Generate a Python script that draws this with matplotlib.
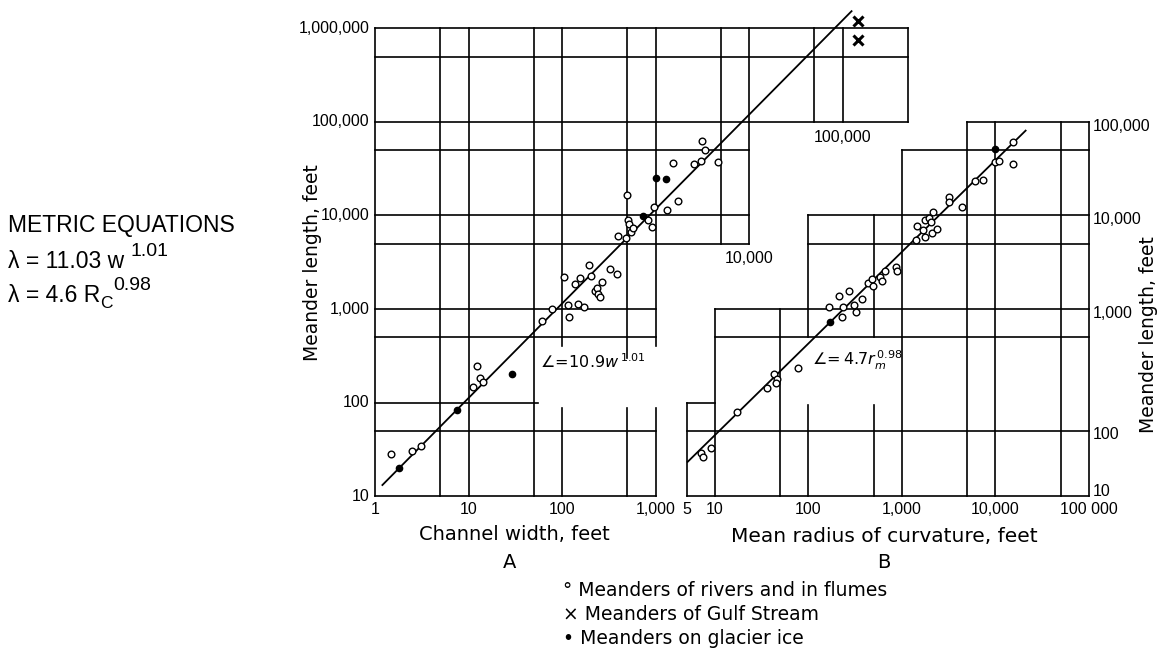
import numpy as np
import matplotlib.pyplot as plt
import matplotlib as mpl

mpl.rcParams['font.family'] = 'DejaVu Sans'

# ---- data ----
# A: channel width (ft) vs meander length (ft)
a_riv_w = [1.5, 2.5, 3.1, 11.2, 12.3, 13.3, 14.3, 61, 78, 105, 116, 119, 138, 148, 156, 172,
           194, 204, 225, 237, 243, 255, 268, 326, 387, 397, 483, 495, 508, 521, 547, 574,
           831, 918, 964, 1330, 1540, 1740, 2580, 3070, 3140, 3380, 4660]
a_riv_L = [28, 30, 34, 147, 245, 183, 166, 745, 1000, 2200, 1100, 820, 1850, 1130, 2150, 1050,
           2960, 2250, 1560, 1680, 1450, 1340, 1940, 2680, 2370, 6040, 5750, 16500, 8950, 8200, 6670, 7350,
           8950, 7540, 12300, 11500, 36400, 14300, 35500, 38300, 62700, 50200, 37300]
a_ice_w = [1.8, 7.5, 29, 735, 1010, 1290]
a_ice_L = [20, 83, 202, 9880, 25200, 24500]
gulf_w = [1.47e5, 1.47e5]
gulf_L = [1.2e6, 7.5e5]

# B: mean radius of curvature (ft) vs meander length (ft)
b_riv_r = [7.1, 7.45, 9.1, 17.2, 35.9, 42.7, 46, 44.9, 77, 166, 212, 228, 234, 271, 307, 322,
           373, 433, 477, 490, 582, 611, 658, 863, 885, 1413, 1446, 1678, 1762, 1762, 1945, 2043,
           2094, 2147, 2368, 3184, 3184, 4387, 6040, 7350, 9880, 10900, 15400, 15400]
b_riv_L = [28.8, 26.1, 32.6, 79, 143, 202, 178, 162, 234, 1050, 1380, 820, 1050, 1560, 1100, 929,
           1280, 1900, 2090, 1760, 2200, 1990, 2550, 2810, 2550, 5470, 7730, 7000, 8950, 5890, 9400, 8520,
           6500, 10900, 7170, 15800, 13900, 12300, 23400, 24000, 37300, 38300, 61100, 35500]
b_ice_r = [170, 9880]
b_ice_L = [726, 51400]

# fitted lines  L = a * x**b
fit_a = (10.9, 1.01, 1.2, 1.25e5)
fit_b = (4.7, 0.98, 5.1, 2.1e4)

a_xticks = [1, 10, 100, 1000]
a_xlabels = ['1', '10', '100', '1,000']
a_yticks = [10, 100, 1000, 1e4, 1e5, 1e6]
a_ylabels = ['10', '100', '1,000', '10,000', '100,000', '1,000,000']
b_xticks = [5, 10, 100, 1000, 1e4, 1e5]
b_xlabels = ['5', '10', '100', '1,000', '10,000', '100 000']
b_yticks = [10, 50, 1000, 1e4, 1e5]
b_ylabels = ['10', '100', '1,000', '10,000', '100,000']

# stepped grid of each panel: (value, from, to)
a_h = [(10, 1, 1000), (50, 1, 1000), (100, 1, 55), (500, 1, 1000), (1000, 1, 1000),
       (5000, 1, 1e4), (1e4, 1, 1e4), (5e4, 1, 1e4), (1e5, 1, 5e5), (5e5, 1, 5e5), (1e6, 1, 5e5)]
a_v = [(1, 10, 1e6), (5, 10, 1e6), (10, 10, 1e6), (50, 10, 1e6), (100, 10, 88), (100, 400, 1e6),
       (500, 10, 88), (500, 300, 1e6), (1000, 10, 88), (1000, 400, 1e6), (5000, 5000, 1e6),
       (1e4, 5000, 1e6), (5e4, 1e5, 1e6), (1e5, 1e5, 1e6), (5e5, 1e5, 1e6)]
b_h = [(10, 5, 1e5), (50, 5, 1e5), (100, 5, 10), (500, 10, 1e5), (1000, 10, 1e5),
       (5000, 100, 1e5), (1e4, 100, 1e5), (5e4, 1000, 1e5), (1e5, 5000, 1e5)]
b_v = [(5, 10, 100), (10, 10, 1000), (50, 10, 1000), (100, 10, 95), (100, 500, 1e4),
       (500, 10, 95), (500, 500, 1e4), (1000, 10, 5e4), (5000, 10, 1e5), (1e4, 10, 1e5),
       (5e4, 10, 1e5), (1e5, 10, 1e5)]

W, H = 1168, 652
PPD = 93.5  # pixels per decade, both axes
fig = plt.figure(figsize=(W / 100, H / 100), dpi=100)


def px(x, y):
    return x / W, 1 - y / H


def log_axes(x_ref, px_ref, xlo, xhi, ylo=10 ** 0.8, yhi=10 ** 6.4):
    left = px_ref + (np.log10(xlo) - np.log10(x_ref)) * PPD
    width = (np.log10(xhi) - np.log10(xlo)) * PPD
    bottom = 496 + (1 - np.log10(ylo)) * PPD
    height = (np.log10(yhi) - np.log10(ylo)) * PPD
    ax = fig.add_axes([left / W, 1 - bottom / H, width / W, height / H])
    ax.set_xscale('log')
    ax.set_yscale('log')
    ax.set_xlim(xlo, xhi)
    ax.set_ylim(ylo, yhi)
    ax.axis('off')
    return ax


def grid(ax, hl, vl):
    for v, a, b in hl:
        ax.plot([a, b], [v, v], color='black', lw=1.2, solid_capstyle='projecting')
    for v, a, b in vl:
        ax.plot([v, v], [a, b], color='black', lw=1.2, solid_capstyle='projecting')


def points(ax, xr, yr, xi, yi):
    ax.plot(xr, yr, 'o', ms=4.8, mfc='white', mec='black', mew=1.0, zorder=4)
    ax.plot(xi, yi, 'o', ms=4.5, color='black', zorder=4)


def fitline(ax, fit):
    a, b, x0, x1 = fit
    ax.plot([x0, x1], [a * x0 ** b, a * x1 ** b], color='black', lw=1.3, zorder=3)


axA = log_axes(1, 375, 10 ** -0.05, 1e6)
axB = log_axes(10, 715, 10 ** 0.5, 10 ** 5.5)

grid(axA, a_h, a_v)
grid(axB, b_h, b_v)
fitline(axA, fit_a)
fitline(axB, fit_b)
points(axA, a_riv_w, a_riv_L, a_ice_w, a_ice_L)
points(axB, b_riv_r, b_riv_L, b_ice_r, b_ice_L)
axA.plot(gulf_w, gulf_L, 'x', ms=7, mew=2.2, color='black', zorder=4)

tk = dict(textcoords='offset points', fontsize=11.5, family='Liberation Sans')
for v, s in zip(a_yticks, a_ylabels):
    axA.annotate(s, (1, v), xytext=(-4, 0), ha='right', va='center', **tk)
for v, s in zip(a_xticks, a_xlabels):
    axA.annotate(s, (v, 10), xytext=(0, -4), ha='center', va='top', **tk)
axA.annotate('10,000', (1e4, 5000), xytext=(0, -5), ha='center', va='top', **tk)
axA.annotate('100,000', (1e5, 1e5), xytext=(0, -6), ha='center', va='top', **tk)
for v, s in zip(b_xticks, b_xlabels):
    axB.annotate(s, (v, 10), xytext=(0, -4), ha='center', va='top', **tk)
for v, s in zip(b_yticks, b_ylabels):
    axB.annotate(s, (1e5, v), xytext=(3, 3 if v == 10 else -3), ha='left', va='center', **tk)

fig.text(*px(312, 263), 'Meander length, feet', rotation=90, ha='center', va='center', fontsize=13.5)
fig.text(*px(1148, 335), 'Meander length, feet', rotation=90, ha='center', va='center', fontsize=13.5)
fig.text(*px(514, 535), 'Channel width, feet', ha='center', va='center', fontsize=14)
fig.text(*px(510, 562), 'A', ha='center', va='center', fontsize=14)
fig.text(*px(884, 537), 'Mean radius of curvature, feet', ha='center', va='center', fontsize=14.5)
fig.text(*px(884, 562), 'B', ha='center', va='center', fontsize=14)

fig.text(*px(540, 362), r'$\angle\!=\!10.9w^{\,1.01}$', ha='left', va='center', fontsize=11.5)
fig.text(*px(812, 360), r'$\angle\!=4.7r_m^{\,0.98}$', ha='left', va='center', fontsize=11.5)

leg = ['\u00b0 Meanders of rivers and in flumes', '\u00d7 Meanders of Gulf Stream',
       '\u2022 Meanders on glacier ice']
for i, s in enumerate(leg):
    fig.text(*px(563, 590 + 24 * i), s, ha='left', va='center', fontsize=13.5)

# metric equations block
rend = fig.canvas.get_renderer()
mf = dict(family='Liberation Sans', va='baseline')
fig.text(*px(8, 232), 'METRIC EQUATIONS', fontsize=16.5, **mf)


def chain(parts, x0, y0):
    x = x0
    for s, dy, size in parts:
        t = fig.text(*px(x, y0 + dy), s, fontsize=size, **mf)
        x += t.get_window_extent(renderer=rend).width


chain([('\u03bb = 11.03 w ', 0, 16.5), ('1.01', -12, 14)], 8, 268)
chain([('\u03bb = 4.6 R', 0, 16.5), ('C', 6, 12.5), ('0.98', -12, 14)], 8, 302)

fig.savefig('out.png', dpi=100)
